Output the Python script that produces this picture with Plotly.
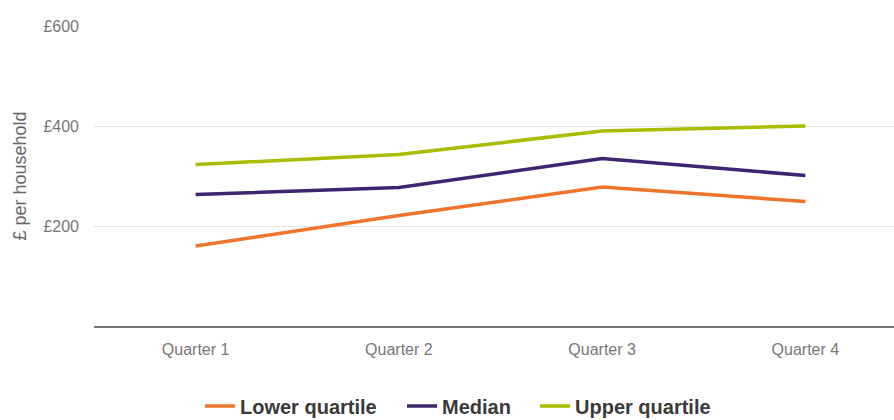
import plotly.graph_objects as go

quarters = ["Quarter 1", "Quarter 2", "Quarter 3", "Quarter 4"]
lower_quartile = [160, 221, 278, 249]
median = [263, 277, 335, 301]
upper_quartile = [323, 343, 390, 400]

series = [
    ("Lower quartile", lower_quartile, "#f0742c", "legend", 200),
    ("Median", median, "#3d2570", "legend2", 402),
    ("Upper quartile", upper_quartile, "#a8bd00", "legend3", 535),
]

FONT = "Liberation Sans, Arial, sans-serif"

fig = go.Figure()
legends = {}
for name, vals, color, lg, lx in series:
    fig.add_trace(go.Scatter(
        x=quarters, y=vals, name=name, mode="lines",
        line=dict(color=color, width=3.5), legend=lg,
    ))
    legends[lg] = dict(
        orientation="h", xref="container", yref="container",
        x=lx / 894, xanchor="left", y=(420 - 406) / 420, yanchor="middle",
        font=dict(size=20, color="#3a3a3a", family=FONT, weight="bold"),
        itemwidth=30, bgcolor="rgba(0,0,0,0)",
    )

fig.update_layout(
    width=894, height=420,
    margin=dict(l=94, r=0, t=26, b=94),
    paper_bgcolor="white", plot_bgcolor="white",
    font=dict(family=FONT, color="#777777", size=16),
    showlegend=True,
    xaxis=dict(
        type="category", range=[-0.5, 3.436], automargin=False,
        showgrid=False, showline=True, linecolor="#777777", linewidth=2,
        ticks="", tickfont=dict(size=16, color="#777777", family=FONT),
        ticklabelstandoff=8,
    ),
    yaxis=dict(
        range=[0, 600], tickvals=[200, 400, 600], ticktext=["£200", "£400", "£600"],
        showgrid=True, gridcolor="#e3e3e3", gridwidth=1, automargin=False,
        zeroline=False, showline=False, ticks="",
        tickfont=dict(size=16, color="#777777", family=FONT),
        ticklabelstandoff=14,
        title=dict(text="£ per household", font=dict(size=18, color="#666666", family=FONT), standoff=12),
    ),
    **legends,
)

fig.write_html("out.html")
